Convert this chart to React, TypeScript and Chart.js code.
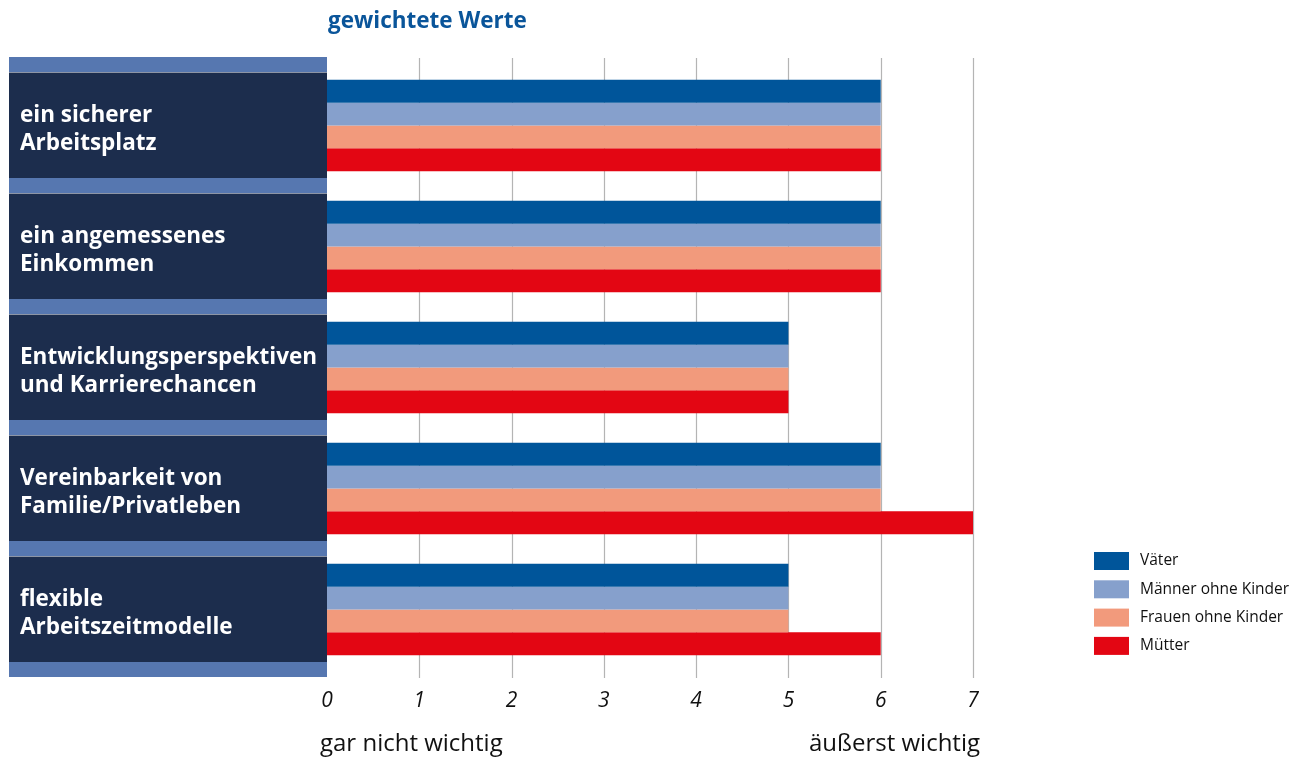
import React, { useEffect, useRef } from "react";
import { Chart, registerables } from "chart.js";

Chart.register(...registerables);

const categories: string[][] = [
  ["ein sicherer", "Arbeitsplatz"],
  ["ein angemessenes", "Einkommen"],
  ["Entwicklungsperspektiven", "und Karrierechancen"],
  ["Vereinbarkeit von", "Familie/Privatleben"],
  ["flexible", "Arbeitszeitmodelle"],
];
const seriesNames = ["Väter", "Männer ohne Kinder", "Frauen ohne Kinder", "Mütter"];
const vaeter = [6, 6, 5, 6, 5];
const maenner = [6, 6, 5, 6, 5];
const frauen = [6, 6, 5, 6, 5];
const muetter = [6, 6, 5, 7, 6];
const seriesColors = ["#00559a", "#86a0cc", "#f29a7c", "#e30613"];
const title = "gewichtete Werte";
const axisLow = "gar nicht wichtig";
const axisHigh = "äußerst wichtig";
const xMin = 0;
const xMax = 7;

const FONT = "'Open Sans', 'Noto Sans', sans-serif";

const decor = {
  id: "decor",
  beforeDatasetsDraw(chart: any) {
    const ctx = chart.ctx;
    const x = chart.scales.x;
    const y = chart.scales.y;
    const area = chart.chartArea;
    const n = categories.length;
    const band = (area.bottom - area.top) / n;
    ctx.save();
    // gridlines
    ctx.strokeStyle = "#b4b4b4";
    ctx.lineWidth = 1.2;
    x.ticks.forEach((t: any) => {
      if (t.value === 0) return;
      const px = Math.round(x.getPixelForValue(t.value)) + 0.5;
      ctx.beginPath();
      ctx.moveTo(px, area.top - 7);
      ctx.lineTo(px, area.bottom + 8);
      ctx.stroke();
    });
    // left panel
    const left = 9;
    const right = area.left;
    const stripH = 15;
    for (let i = 0; i < n; i++) {
      const c = y.getPixelForValue(i);
      const top = c - band / 2 + stripH / 2;
      const bot = c + band / 2 - stripH / 2;
      ctx.fillStyle = "#1c2d4d";
      ctx.fillRect(left, top, right - left, bot - top);
    }
    ctx.fillStyle = "#5677b0";
    for (let i = 0; i <= n; i++) {
      const b = area.top + i * band;
      ctx.fillRect(left, b - stripH / 2 - 0.5, right - left, stripH);
    }
    // category labels
    ctx.fillStyle = "#ffffff";
    ctx.font = `bold 22.5px ${FONT}`;
    ctx.textAlign = "left";
    ctx.textBaseline = "alphabetic";
    categories.forEach((lines, i) => {
      const c = y.getPixelForValue(i);
      const lh = 28;
      lines.forEach((ln, j) => {
        ctx.fillText(ln, 20, c - 4 + j * lh);
      });
    });
    ctx.restore();
  },
  afterDraw(chart: any) {
    const ctx = chart.ctx;
    const x = chart.scales.x;
    const area = chart.chartArea;
    ctx.save();
    // tick labels
    ctx.fillStyle = "#111111";
    ctx.font = `italic 21px ${FONT}`;
    ctx.textAlign = "center";
    ctx.textBaseline = "alphabetic";
    x.ticks.forEach((t: any) => {
      ctx.fillText(String(t.value), x.getPixelForValue(t.value), 707);
    });
    // axis end labels
    ctx.font = `24px ${FONT}`;
    ctx.textAlign = "left";
    ctx.fillText(axisLow, 320, 751);
    ctx.textAlign = "right";
    ctx.fillText(axisHigh, x.getPixelForValue(xMax) + 7, 751);
    // title
    ctx.fillStyle = "#0a559a";
    ctx.font = `bold 22.5px ${FONT}`;
    ctx.textAlign = "left";
    ctx.fillText(title, area.left + 1, 28);
    // legend
    ctx.font = `15.5px ${FONT}`;
    ctx.textBaseline = "middle";
    chart.data.datasets.forEach((ds: any, i: number) => {
      const cy = 561 + i * 28.3;
      ctx.fillStyle = ds.backgroundColor;
      ctx.fillRect(1094, cy - 9, 35, 18);
      ctx.fillStyle = "#111111";
      ctx.fillText(ds.label, 1140, cy);
    });
    ctx.restore();
  },
};

export default function App() {
  const ref = useRef<HTMLCanvasElement>(null);
  useEffect(() => {
    document.body.style.margin = "0";
    const values = [vaeter, maenner, frauen, muetter];
    const chart = new Chart(ref.current!, {
      type: "bar",
      data: {
        labels: categories.map((c) => c.join(" ")),
        datasets: seriesNames.map((name, i) => ({
          label: name,
          data: values[i],
          backgroundColor: seriesColors[i],
          borderWidth: 0,
          categoryPercentage: 0.755,
          barPercentage: 1.0,
        })),
      },
      options: {
        indexAxis: "y",
        animation: false,
        responsive: false,
        maintainAspectRatio: false,
        layout: { padding: { left: 327, right: 333, top: 65, bottom: 97 } },
        scales: {
          x: { display: false, min: xMin, max: xMax, ticks: { stepSize: 1 } },
          y: { display: false },
        },
        plugins: { legend: { display: false }, tooltip: { enabled: false } },
      },
      plugins: [decor],
    } as any);
    return () => chart.destroy();
  }, []);
  return (
    <div style={{ position: "fixed", left: 0, top: 0, width: 1306, height: 767, background: "#fff" }}>
      <canvas ref={ref} width={1306} height={767} style={{ width: 1306, height: 767 }} />
    </div>
  );
}
